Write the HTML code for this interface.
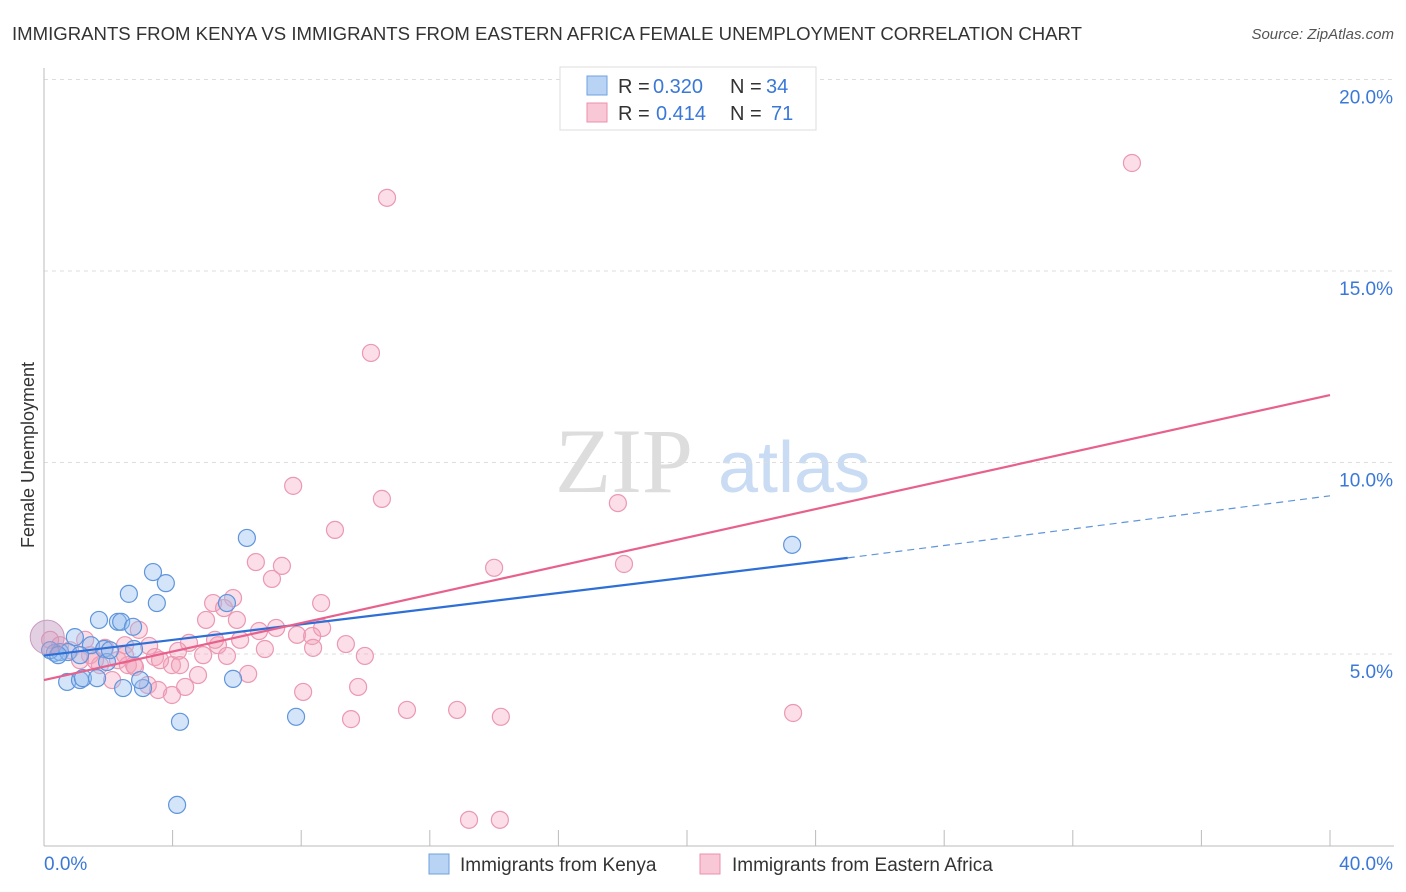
<!DOCTYPE html>
<html><head><meta charset="utf-8"><style>
body{margin:0;background:#fff;font-family:"Liberation Sans",sans-serif;}
#wrap{position:relative;width:1406px;height:892px;overflow:hidden}
</style></head><body>
<div id="wrap">
<svg id="svg" width="1406" height="892" xmlns="http://www.w3.org/2000/svg">
<text x="12" y="40" font-size="18" fill="#333" textLength="1070" lengthAdjust="spacingAndGlyphs">IMMIGRANTS FROM KENYA VS IMMIGRANTS FROM EASTERN AFRICA FEMALE UNEMPLOYMENT CORRELATION CHART</text>
<text x="1394" y="39" font-size="15" fill="#555" font-style="italic" text-anchor="end">Source: ZipAtlas.com</text>
<text x="555" y="492" font-size="92" fill="#ddd" font-family="Liberation Serif,serif">ZIP</text>
<text x="718" y="492" font-size="72" fill="#c9dcf3">atlas</text>
<text transform="translate(34,455) rotate(-90)" font-size="18" fill="#333" text-anchor="middle">Female Unemployment</text>
<g id="grid"></g><g id="marks"></g>
<g>
<rect x="560" y="67" width="256" height="63" fill="#fff" stroke="#ddd"/>
<rect x="587" y="76" width="20" height="19" fill="#b9d3f5" stroke="#6fa0e0"/>
<rect x="587" y="103" width="20" height="19" fill="#f9c8d6" stroke="#ec90ac"/>
<g font-size="20" fill="#333">
<text x="618" y="93">R =</text><text x="653" y="93" fill="#3a78d8">0.320</text><text x="730" y="93">N =</text><text x="766" y="93" fill="#3a78d8">34</text>
<text x="618" y="120">R =</text><text x="656" y="120" fill="#3a78d8">0.414</text><text x="730" y="120">N =</text><text x="771" y="120" fill="#3a78d8">71</text>
</g>
</g>
<g>
<rect x="429" y="854" width="20" height="20" fill="#b9d3f5" stroke="#6fa0e0"/>
<text x="460" y="871" font-size="19" fill="#333">Immigrants from Kenya</text>
<rect x="700" y="854" width="20" height="20" fill="#f9c8d6" stroke="#ec90ac"/>
<text x="732" y="871" font-size="19" fill="#333">Immigrants from Eastern Africa</text>
</g>
</svg></div>
<script>
const kenyaX=[6.31,3.39,3.79,2.64,3.51,1.71,2.30,2.40,2.77,0.96,1.46,2.80,1.87,0.34,0.50,0.75,1.12,1.96,5.69,0.72,1.12,1.21,1.65,2.46,3.08,2.99,5.88,7.84,4.23,4.14,23.27,0.19,2.05,0.44];
const kenyaY=[8.03,7.14,6.85,6.57,6.33,5.89,5.84,5.84,5.71,5.44,5.23,5.13,5.13,5.03,5.05,5.05,4.97,4.79,6.33,4.27,4.32,4.37,4.37,4.11,4.11,4.32,4.35,3.36,3.23,1.06,7.85,5.10,5.10,4.97];
const eafX=[33.84,10.67,10.17,7.75,10.51,17.85,9.05,14.00,18.04,6.59,7.40,7.09,5.88,5.26,5.60,8.62,6.00,5.04,7.22,6.69,7.87,8.65,8.34,2.95,9.39,4.51,5.41,3.27,4.17,6.87,8.37,4.95,5.69,9.98,1.43,2.30,2.61,2.80,3.45,3.98,4.23,1.74,4.79,2.12,3.23,3.55,3.98,4.39,6.35,8.06,9.77,9.55,11.29,12.85,14.21,23.30,13.22,14.18,0.19,0.50,0.81,1.12,1.59,2.83,2.52,3.61,6.10,1.28,1.90,2.52,5.32];
const eafY=[17.82,16.91,12.86,9.39,9.05,8.94,8.24,7.25,7.35,7.40,7.30,6.96,6.46,6.33,6.20,6.33,5.89,5.89,5.68,5.60,5.50,5.68,5.47,5.63,5.26,5.29,5.23,5.21,5.08,5.13,5.16,4.97,4.95,4.95,4.97,4.84,4.71,4.71,4.92,4.71,4.71,4.71,4.45,4.32,4.19,4.06,3.93,4.14,4.48,4.01,4.14,3.30,3.54,3.54,3.36,3.46,0.67,0.67,5.37,5.23,5.10,4.84,4.84,4.66,4.97,4.84,5.37,5.37,5.16,5.23,5.37];
const kenyaTrend=[[0,4.96],[25,7.51],[40,9.13]];
const eafTrend=[[0,4.32],[40,11.76]];
const yTicks=[5,10,15,20];
const yTickLabels=["5.0%","10.0%","15.0%","20.0%"];
const xTicks=[0,4,8,12,16,20,24,28,32,36,40];
const NS="http://www.w3.org/2000/svg";
const sx=v=>44+v*32.15, sy=v=>845.5-v*38.3;
function mk(t,a,p){const e=document.createElementNS(NS,t);for(const k in a)e.setAttribute(k,a[k]);p.appendChild(e);return e;}
const grid=document.getElementById('grid'),marks=document.getElementById('marks');
yTicks.forEach((v,i)=>{
 const l=mk('line',{x1:44,x2:1394,y1:sy(v),y2:sy(v),stroke:'#ddd','stroke-dasharray':'4,4'},grid);
 
 
 const t=mk('text',{x:1393,y:sy(v)+24,'font-size':19,fill:'#3a78d8','text-anchor':'end'},grid);
 t.textContent=yTickLabels[i];
 
 
});
const ya=mk('line',{x1:44,x2:44,y1:68,y2:846,stroke:'#bbb'},grid);


const xa=mk('line',{x1:44,x2:1394,y1:846,y2:846,stroke:'#bbb'},grid);


xTicks.forEach(v=>{const t=mk('line',{x1:sx(v),x2:sx(v),y1:830,y2:846,stroke:'#bbb'},grid);
 
 });
[[0,'0.0%','start',44],[40,'40.0%','end',1393]].forEach(d=>{const t=mk('text',{x:d[3],y:870,'font-size':19,fill:'#3a78d8','text-anchor':d[2]},grid);t.textContent=d[1];
 
 });
eafX.forEach((x,i)=>{const c=mk('circle',{cx:sx(x),cy:sy(eafY[i]),r:8.5,fill:'rgba(244,160,185,0.35)',stroke:'#eb98b2','stroke-width':1.2},marks);
 
 });
kenyaX.forEach((x,i)=>{const c=mk('circle',{cx:sx(x),cy:sy(kenyaY[i]),r:8.5,fill:'rgba(150,190,240,0.4)',stroke:'#5f95dc','stroke-width':1.2},marks);
 
 });
const big=mk('circle',{cx:sx(0.1),cy:sy(5.44),r:17,fill:'rgba(190,150,190,0.45)',stroke:'#c89ac0'},marks);


let ln=mk('line',{x1:sx(kenyaTrend[0][0]),y1:sy(kenyaTrend[0][1]),x2:sx(kenyaTrend[1][0]),y2:sy(kenyaTrend[1][1]),stroke:'#2d6fd6','stroke-width':2.2},marks);


ln=mk('line',{x1:sx(kenyaTrend[1][0]),y1:sy(kenyaTrend[1][1]),x2:sx(kenyaTrend[2][0]),y2:sy(kenyaTrend[2][1]),stroke:'#5f95dc','stroke-width':1.2,'stroke-dasharray':'7,5'},marks);


ln=mk('line',{x1:sx(eafTrend[0][0]),y1:sy(eafTrend[0][1]),x2:sx(eafTrend[1][0]),y2:sy(eafTrend[1][1]),stroke:'#e8608c','stroke-width':2.2},marks);


</script></body></html>
